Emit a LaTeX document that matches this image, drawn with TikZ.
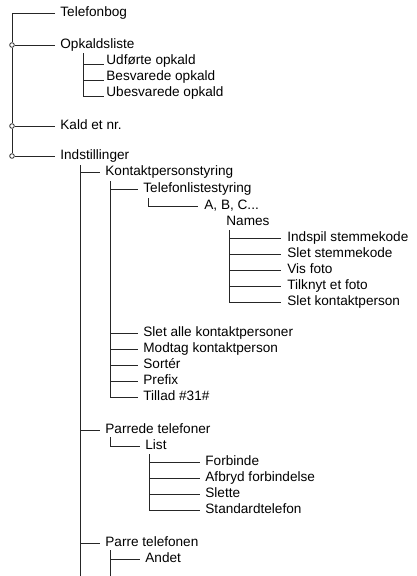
\documentclass[tikz,border=0pt]{standalone}
\usepackage{fontspec}
\setmainfont{Liberation Sans}
\begin{document}
\begin{tikzpicture}[x=1pt,y=-1pt,line width=0.8pt,color=black!85,
  lbl/.style={anchor=west,inner xsep=5pt,inner ysep=0pt,text height=10pt,text depth=3pt,
    font=\fontsize{13.6}{16}\selectfont,text=black},
  dot/.style={circle,draw,fill=white,inner sep=0pt,minimum size=4.6pt}]
\useasboundingbox (0,0) rectangle (416,576);
% level 0
\node[lbl] (telefonbog) at (55,13) {Telefonbog};
\node[lbl] (opkald) at (55,45) {Opkaldsliste};
\node[lbl] (kald) at (55,126) {Kald et nr.};
\node[lbl] (indst) at (55,156) {Indstillinger};
\coordinate (v0top) at (12,13);
\node[dot] (d1) at (12,45) {};
\node[dot] (d2) at (12,126) {};
\node[dot] (d3) at (12,156) {};
\draw (telefonbog.west) -- (v0top) -- (d1) -- (d2) -- (d3);
\draw (d1) -- (opkald.west);
\draw (d2) -- (kald.west);
\draw (d3) -- (indst.west);
% Opkaldsliste children
\node[lbl,inner xsep=2pt] (udf) at (104,61) {Udførte opkald};
\node[lbl,inner xsep=2pt] (besv) at (104,77) {Besvarede opkald};
\node[lbl,inner xsep=2pt] (ubes) at (104,93) {Ubesvarede opkald};
\coordinate (o0) at (83,53);
\draw (o0) |- ([yshift=-3pt]udf.west);
\draw (o0) |- ([yshift=-3pt]besv.west);
\draw (o0) |- ([yshift=-3pt]ubes.west);
% level 1 under Indstillinger
\coordinate (k0) at (80,165);
\coordinate (kend) at (80,576);
\node[lbl] (kontakt) at (100,172) {Kontaktpersonstyring};
\node[lbl] (parrede) at (100,430) {Parrede telefoner};
\node[lbl] (parre) at (100,543) {Parre telefonen};
\draw (k0) -- (kend);
\draw (k0) |- (kontakt.west);
\draw (k0) |- (parrede.west);
\draw (k0) |- (parre.west);
% level 2 under Kontaktpersonstyring
\coordinate (c0) at (110,181);
\node[lbl] (tls) at (138,189) {Telefonlistestyring};
\node[lbl] (sletalle) at (138,333) {Slet alle kontaktpersoner};
\node[lbl] (modtag) at (138,349) {Modtag kontaktperson};
\node[lbl] (sorter) at (138,365) {Sortér};
\node[lbl] (prefix) at (138,381) {Prefix};
\node[lbl] (tillad) at (138,397) {Tillad \#31\#};
\foreach \n in {tls,sletalle,modtag,sorter,prefix,tillad} \draw (c0) |- (\n.west);
% A, B, C...
\coordinate (a0) at (148,198);
\node[lbl,inner xsep=6pt] (abc) at (198,206) {A, B, C...};
\draw (a0) |- (abc.west);
\node[lbl] (names) at (221,222) {Names};
% Names children
\coordinate (n0) at (229,230);
\node[lbl,inner xsep=6pt] (indspil) at (281,238) {Indspil stemmekode};
\node[lbl,inner xsep=6pt] (sletst) at (281,254) {Slet stemmekode};
\node[lbl,inner xsep=6pt] (visfoto) at (281,270) {Vis foto};
\node[lbl,inner xsep=6pt] (tilknyt) at (281,286) {Tilknyt et foto};
\node[lbl,inner xsep=6pt] (sletkp) at (281,302) {Slet kontaktperson};
\foreach \n in {indspil,sletst,visfoto,tilknyt,sletkp} \draw (n0) |- (\n.west);
% List
\coordinate (l0) at (110,437);
\node[lbl] (list) at (140,446) {List};
\draw (l0) |- (list.west);
\coordinate (m0) at (149,454);
\node[lbl] (forb) at (200,462) {Forbinde};
\node[lbl] (afbr) at (200,478) {Afbryd forbindelse};
\node[lbl] (slette) at (200,494) {Slette};
\node[lbl] (std) at (200,510) {Standardtelefon};
\foreach \n in {forb,afbr,slette,std} \draw (m0) |- (\n.west);
% Andet
\coordinate (p0) at (110,550);
\coordinate (pend) at (110,576);
\node[lbl] (andet) at (140,559) {Andet};
\draw (p0) -- (pend);
\draw (p0) |- (andet.west);
\end{tikzpicture}
\end{document}
